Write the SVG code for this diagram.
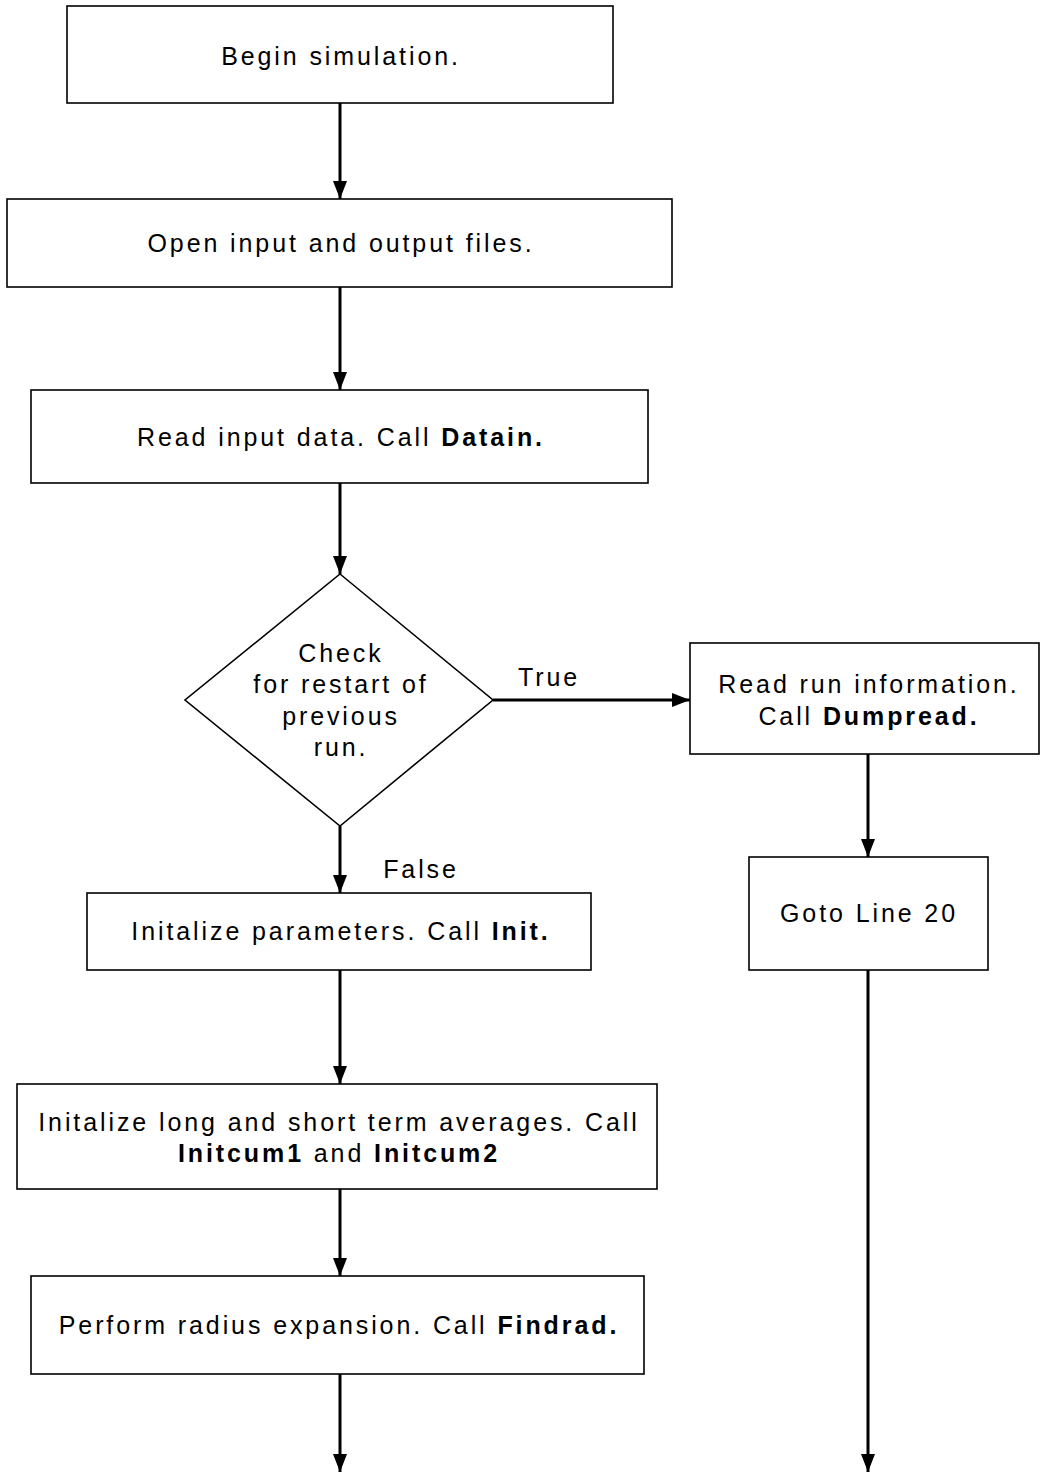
<svg xmlns="http://www.w3.org/2000/svg" width="1040" height="1472" viewBox="0 0 1040 1472">
<defs>
<marker id="ah" viewBox="0 0 18 14" refX="18" refY="7" markerWidth="18" markerHeight="14" markerUnits="userSpaceOnUse" orient="auto">
<path d="M0,0 L18,7 L0,14 Z" fill="#000"/>
</marker>
<style>
.box{fill:#fff;stroke:#000;stroke-width:1.6}
.t{font-family:"Liberation Sans",Arial,sans-serif;font-size:25px;letter-spacing:2.9px;fill:#000;text-anchor:middle}
.b{font-weight:bold}
.c{stroke:#000;stroke-width:3;fill:none;marker-end:url(#ah)}
</style>
</defs>
<rect width="1040" height="1472" fill="#fff"/>
<g id="connectors">
<line class="c" x1="340" y1="103" x2="340" y2="199"/>
<line class="c" x1="340" y1="287" x2="340" y2="390"/>
<line class="c" x1="340" y1="483" x2="340" y2="574"/>
<line class="c" x1="340" y1="826" x2="340" y2="893"/>
<line class="c" x1="493" y1="700" x2="690" y2="700"/>
<line class="c" x1="868" y1="754" x2="868" y2="857"/>
<line class="c" x1="340" y1="970" x2="340" y2="1084"/>
<line class="c" x1="340" y1="1189" x2="340" y2="1276"/>
<line class="c" x1="340" y1="1374" x2="340" y2="1472"/>
<line class="c" x1="868" y1="970" x2="868" y2="1472"/>
<text class="t" x="549" y="686">True</text>
<text class="t" x="421" y="878">False</text>
</g>
<g id="n1"><rect class="box" x="67" y="6" width="546" height="97"/><text class="t" x="341" y="65">Begin simulation.</text></g>
<g id="n2"><rect class="box" x="7" y="199" width="665" height="88"/><text class="t" x="341" y="252">Open input and output files.</text></g>
<g id="n3"><rect class="box" x="31" y="390" width="617" height="93"/><text class="t" x="341" y="446">Read input data. Call <tspan class="b">Datain.</tspan></text></g>
<g id="n4"><polygon class="box" points="340,574 493,700 340,826 185,700"/>
<text class="t" x="341" y="662">Check</text>
<text class="t" x="341" y="693">for restart of</text>
<text class="t" x="341" y="725">previous</text>
<text class="t" x="341" y="756">run.</text></g>
<g id="n5"><rect class="box" x="690" y="643" width="349" height="111"/>
<text class="t" x="869" y="693">Read run information.</text>
<text class="t" x="869" y="725">Call <tspan class="b">Dumpread.</tspan></text></g>
<g id="n6"><rect class="box" x="749" y="857" width="239" height="113"/><text class="t" x="869" y="922">Goto Line 20</text></g>
<g id="n7"><rect class="box" x="87" y="893" width="504" height="77"/><text class="t" x="341" y="940">Initalize parameters. Call <tspan class="b">Init.</tspan></text></g>
<g id="n8"><rect class="box" x="17" y="1084" width="640" height="105"/>
<text class="t" x="339" y="1131">Initalize long and short term averages. Call</text>
<text class="t" x="339" y="1162"><tspan class="b">Initcum1</tspan> and <tspan class="b">Initcum2</tspan></text></g>
<g id="n9"><rect class="box" x="31" y="1276" width="613" height="98"/><text class="t" x="339" y="1334">Perform radius expansion. Call <tspan class="b">Findrad.</tspan></text></g>
</svg>
